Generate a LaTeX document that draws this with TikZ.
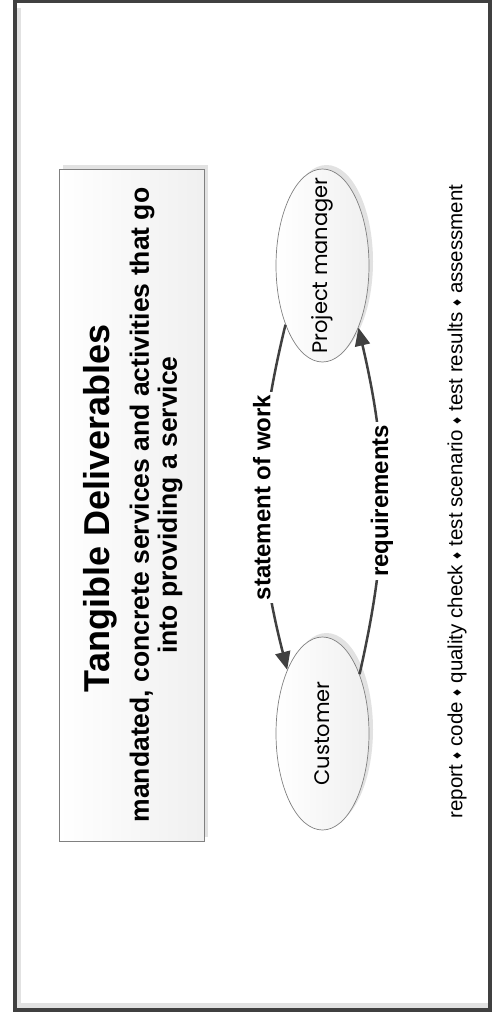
\documentclass[tikz,border=0pt]{standalone}
\usepackage{fontspec}
\setmainfont{Liberation Sans}
\newfontfamily\handfont{Poppins}
\usetikzlibrary{arrows.meta,shapes.geometric,shadows}
\definecolor{framegray}{HTML}{404040}
\definecolor{edgegray}{HTML}{808080}
\definecolor{shadegray}{HTML}{E2E2E2}
\newcommand{\delivsep}{ {\fontsize{14}{14}\selectfont\raisebox{1pt}{♦}} }

\begin{document}
\begin{tikzpicture}[x=1pt, y=1pt,
    frame/.style={draw=framegray, line width=4pt},
    deliverbox/.style={draw=edgegray, line width=1pt, left color=white, right color=gray!12,
      minimum width=145pt, minimum height=672pt, inner sep=0pt,
      general shadow={fill=shadegray, shadow xshift=4pt, shadow yshift=4pt}},
    actor/.style={ellipse, draw=edgegray, line width=.7pt, left color=white, right color=gray!12,
      minimum width=93pt, minimum height=193pt, inner sep=0pt,
      general shadow={fill=shadegray, shadow xshift=4pt, shadow yshift=4pt}},
    actorname/.style={rotate=90, inner sep=0pt, font=\handfont\fontsize{21}{24}\selectfont},
    flow/.style={draw=framegray, line width=2.5pt, -{Triangle[length=18pt,width=15pt]}},
    flowlabel/.style={midway, rotate=90, fill=white, inner sep=3pt, font=\bfseries\fontsize{24}{28}\selectfont}]
  \useasboundingbox (0,0) rectangle (491,-1017);
  \draw[frame] (15,-1) rectangle (489.5,-1010);
  \fill[shadegray] (17,-8) rectangle (21,-1008);
  \fill[shadegray] (17,-1003) rectangle (487.5,-1008);

  \node[deliverbox] (deliv) at (131.5,-505) {};
  \node[rotate=90, inner sep=0pt, font=\bfseries\fontsize{36}{40}\selectfont] (title) at (100.6,-508.5) {Tangible Deliverables};
  \node[rotate=90, inner sep=0pt, align=center, font=\bfseries\fontsize{26.5}{28}\selectfont] (subtitle) at (156.2,-505)
    {mandated, concrete services and activities that go\\into providing a service};

  \node[actor] (pm) at (322.5,-265.5) {};
  \node[actorname] (pmname) at (pm) {Project manager};
  \node[actor] (cust) at (322.5,-733.5) {};
  \node[actorname] (custname) at (cust) {Customer};

  \draw[flow] (pm.238) to[bend right=14] node[flowlabel] (sow) {statement of work} (cust.119);
  \draw[flow] (cust.58) to[bend right=13] node[flowlabel] (req) {requirements} (pm.300);

  \node[rotate=90, inner sep=0pt, font=\fontsize{20.5}{24}\selectfont] (outputs) at (457,-501.5)
    {report\delivsep code\delivsep quality check\delivsep test scenario\delivsep test results\delivsep assessment};
\end{tikzpicture}
\end{document}
